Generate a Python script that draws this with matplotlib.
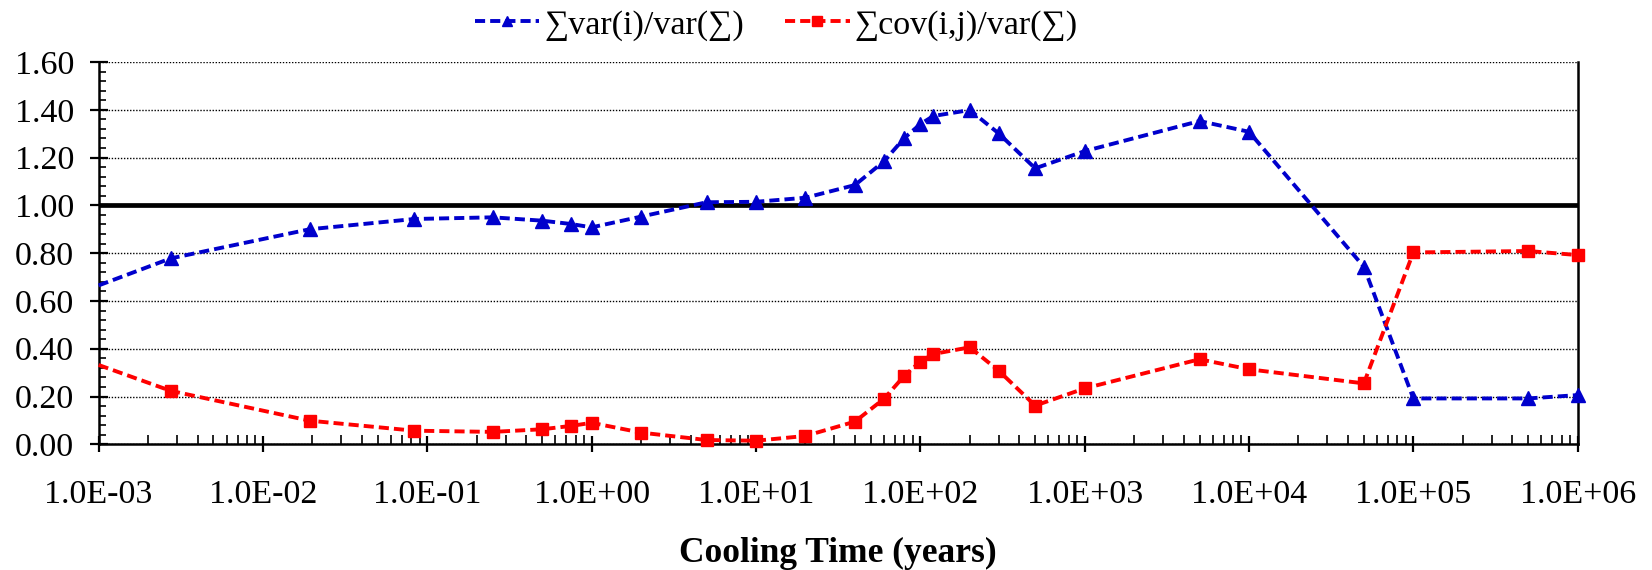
import matplotlib
matplotlib.use("Agg")
import matplotlib.pyplot as plt
from matplotlib.ticker import LogLocator, MultipleLocator, FixedLocator, NullFormatter

plt.rcParams["font.family"] = ["Liberation Serif", "DejaVu Serif"]

# cooling time (years)
t = [1.0e-3, 2.74e-3, 1.92e-2, 8.33e-2, 0.25, 0.5, 0.75, 1, 2, 5, 10, 20, 40, 60, 80,
     100, 120, 200, 300, 500, 1000, 5000, 1.0e4, 5.0e4, 1.0e5, 5.0e5, 1.0e6]
var_ratio = [0.665, 0.778, 0.900, 0.943, 0.950, 0.936, 0.922, 0.908, 0.953, 1.013,
             1.015, 1.032, 1.085, 1.184, 1.282, 1.340, 1.374, 1.399, 1.301, 1.155,
             1.227, 1.353, 1.308, 0.743, 0.192, 0.192, 0.206]
cov_ratio = [0.332, 0.224, 0.099, 0.057, 0.052, 0.063, 0.077, 0.090, 0.049, 0.018,
             0.015, 0.035, 0.095, 0.190, 0.287, 0.346, 0.378, 0.406, 0.308, 0.162,
             0.234, 0.356, 0.314, 0.255, 0.803, 0.809, 0.792]
labels = ["\u2211var(i)/var(\u2211)", "\u2211cov(i,j)/var(\u2211)"]
xticklabels = ["1.0E-03", "1.0E-02", "1.0E-01", "1.0E+00", "1.0E+01",
               "1.0E+02", "1.0E+03", "1.0E+04", "1.0E+05", "1.0E+06"]

fig = plt.figure(figsize=(16.52, 5.70), dpi=100)
ax = fig.add_axes([0.0597, 0.2205, 0.8953, 0.6707])

# first sample sits on the axis edge without a marker
mk = list(range(1, len(t)))
ax.plot(t, var_ratio, color="#0000CC", lw=2.8, dashes=(2.6, 1.3), marker="^",
        ms=9.8, markevery=mk, label=labels[0], clip_on=False, zorder=4)
ax.plot(t, cov_ratio, color="#FF0000", lw=2.8, dashes=(2.6, 1.3), marker="s",
        ms=8.8, markevery=mk, label=labels[1], clip_on=False, zorder=4)
ax.axhline(1.0, color="black", lw=3.4, zorder=3)

ax.set_xscale("log")
ax.set_xlim(1e-3, 1e6)
ax.set_ylim(0, 1.6)

ax.xaxis.set_major_locator(FixedLocator([10.0 ** k for k in range(-3, 7)]))
ax.set_xticklabels(xticklabels)
ax.xaxis.set_minor_locator(LogLocator(base=10, subs=range(2, 10), numticks=20))
ax.xaxis.set_minor_formatter(NullFormatter())
ax.yaxis.set_major_locator(MultipleLocator(0.2))
ax.yaxis.set_minor_locator(MultipleLocator(0.04))
ax.yaxis.set_major_formatter(plt.FuncFormatter(lambda v, p: f"{v:.2f}"))

ax.tick_params(axis="x", which="major", direction="inout", length=12, width=1.6,
               pad=19, labelsize=24.5)
ax.tick_params(axis="x", which="minor", direction="in", length=6.5, width=1.2)
ax.tick_params(axis="y", which="major", direction="inout", length=13, width=1.6,
               pad=11, labelsize=24.5)
ax.tick_params(axis="y", which="minor", direction="in", length=5, width=1.2)

ax.grid(True, which="major", axis="y", color="black", ls=(0, (1, 1.2)), lw=1.0)
ax.spines["top"].set_visible(False)
for s in ["left", "bottom", "right"]:
    ax.spines[s].set_linewidth(1.8)

ax.set_xlabel("Cooling Time (years)", fontsize=25.5, fontweight="bold", labelpad=20)

fig.legend(loc="center", bbox_to_anchor=(0.47, 0.956), ncol=2, frameon=False,
           fontsize=24.5, handlelength=1.9, handletextpad=0.15, columnspacing=1.2,
           markerscale=0.75)

fig.savefig("out.png", dpi=100)
